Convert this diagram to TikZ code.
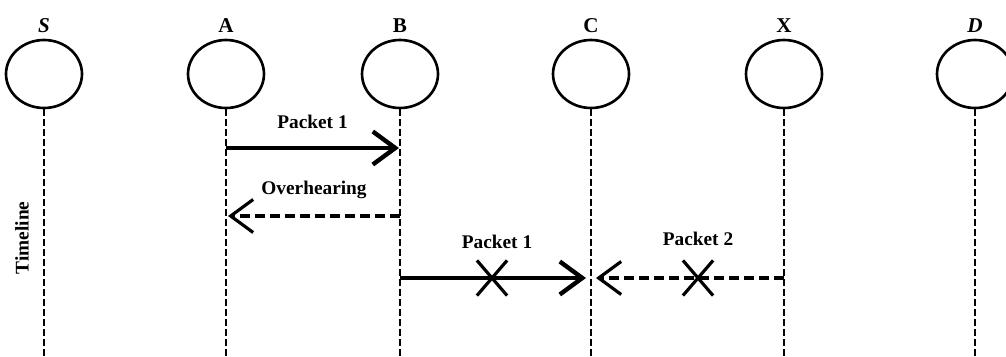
\documentclass[tikz,border=0pt]{standalone}
\usepackage{fontspec}
\setmainfont{Liberation Serif}
\usetikzlibrary{arrows.meta,positioning,shapes.geometric,shapes.misc}

\begin{document}
\begin{tikzpicture}[x=0.02cm, y=0.02cm,
    station/.style={draw, ellipse, line width=1.5pt, minimum width=1.52cm,
      minimum height=1.36cm, inner sep=0pt},
    tag/.style={font=\fontsize{12}{14}\selectfont\bfseries, inner sep=1pt},
    lifeline/.style={line width=1.4pt, dash pattern=on 0.13cm off 0.07cm},
    msg/.style={font=\fontsize{11}{13}\selectfont\bfseries, inner sep=1pt},
    send/.style={-{Straight Barb[length=0.45cm, width=0.66cm]}, line width=2.5pt},
    weak/.style={-{Straight Barb[length=0.45cm, width=0.66cm]}, line width=1.8pt,
      dash pattern=on 0.2cm off 0.1cm},
    lost/.style={draw, cross out, line width=1.8pt, minimum width=0.54cm,
      minimum height=0.64cm, inner sep=0pt}
  ]
    \useasboundingbox (0,0) rectangle (1006,356);

    % stations and their names
    \node[station] (S) at (44,282) {};
    \node[station] (A) at (226,282) {};
    \node[station] (B) at (400,282) {};
    \node[station] (C) at (591,282) {};
    \node[station] (X) at (784,282) {};
    \node[station] (D) at (975,282) {};
    \node[tag, above=0.08cm of S] (tS) {\textit{S}};
    \node[tag, above=0.08cm of A] (tA) {A};
    \node[tag, above=0.08cm of B] (tB) {B};
    \node[tag, above=0.08cm of C] (tC) {C};
    \node[tag, above=0.08cm of X] (tX) {X};
    \node[tag, above=0.08cm of D] (tD) {\textit{D}};

    % time runs down each station
    \foreach \n in {S,A,B,C,X,D}
      \draw[lifeline] (\n.south) -- (\n.south |- 0,0);
    \node[msg, rotate=90] (time) at (22,118) {Timeline};

    % hook points on the lifelines
    \coordinate (a1) at (226,208);
    \coordinate (b1) at (399,208);
    \coordinate (b2) at (400,140);
    \coordinate (a2) at (228,140);
    \coordinate (b3) at (400,78);
    \coordinate (c3) at (586,78);
    \coordinate (x3) at (784,78);
    \coordinate (c4) at (596,78);

    % messages
    \draw[send] (a1) -- node[msg, above=0.3cm] (p1) {Packet 1} (b1);
    \draw[weak] (b2) -- node[msg, above=0.28cm] (ovh) {Overhearing} (a2);
    \draw[send] (b3) -- (c3);
    \draw[weak] (x3) -- (c4);

    % collisions
    \node[lost] (k1) at (492,78) {};
    \node[lost] (k2) at (698,78) {};
    \node[msg, above=0.2cm of k1, xshift=0.1cm] (p2) {Packet 1};
    \node[msg, above=0.26cm of k2] (p3) {Packet 2};
\end{tikzpicture}
\end{document}
